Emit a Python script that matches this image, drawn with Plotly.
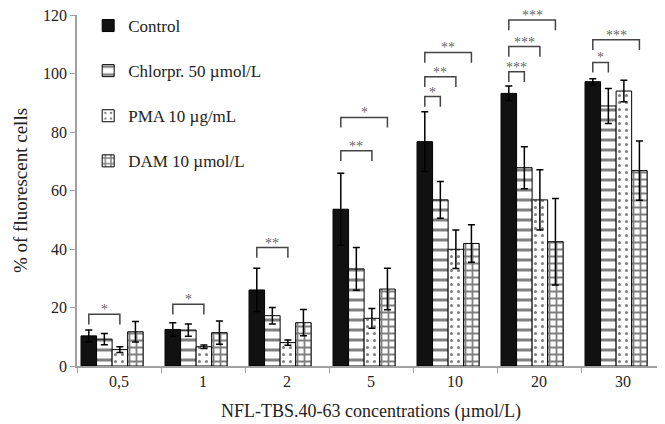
import plotly.graph_objects as go

# Data
concentrations = ["0,5", "1", "2", "5", "10", "20", "30"]
series_names = ["Control", "Chlorpr. 50 µmol/L", "PMA 10 µg/mL", "DAM 10 µmol/L"]

control = [10.3, 12.5, 26.0, 53.6, 76.7, 93.2, 97.2]
control_err = [2.0, 2.3, 7.4, 12.3, 10.2, 2.5, 1.0]
chlorpr = [9.2, 12.3, 17.2, 33.2, 56.8, 67.8, 88.9]
chlorpr_err = [1.9, 2.1, 2.8, 7.3, 6.3, 7.2, 6.0]
pma = [5.6, 6.6, 8.0, 16.3, 39.9, 56.8, 94.0]
pma_err = [1.0, 0.6, 0.9, 3.4, 6.6, 10.3, 3.7]
dam = [11.7, 11.4, 14.8, 26.3, 41.9, 42.5, 66.8]
dam_err = [3.5, 4.0, 4.5, 7.1, 6.4, 14.8, 10.1]

# significance brackets: (concentration index, compared series index, bracket height, label)
brackets = [
    (0, 2, 17.7, "*"),
    (1, 2, 21.1, "*"),
    (2, 2, 40.5, "**"),
    (3, 2, 73.6, "**"),
    (3, 3, 85.0, "*"),
    (4, 1, 92.1, "*"),
    (4, 2, 98.9, "**"),
    (4, 3, 107.2, "**"),
    (5, 1, 100.6, "***"),
    (5, 2, 109.2, "***"),
    (5, 3, 118.3, "***"),
    (6, 1, 103.8, "*"),
    (6, 3, 111.5, "***"),
]

values = [control, chlorpr, pma, dam]
errors = [control_err, chlorpr_err, pma_err, dam_err]

bar_w = 0.185
first_offset = -0.452
patterns = [
    dict(shape=""),
    dict(shape="-", fgcolor="black", bgcolor="white", size=10, solidity=0.3),
    dict(shape=".", fgcolor="black", bgcolor="white", size=7, solidity=0.15),
    dict(shape="+", fgcolor="black", bgcolor="white", size=7, solidity=0.45),
]
fills = ["#111111", "white", "white", "white"]

fig = go.Figure()
for j in range(4):
    fig.add_trace(go.Bar(
        x=concentrations, y=values[j], name=series_names[j],
        width=bar_w, offset=first_offset + j * bar_w,
        marker=dict(color=fills[j], line=dict(color="black", width=1), pattern=patterns[j]),
        error_y=dict(type="data", array=errors[j], color="black", thickness=1.5, width=3.5),
        legendgroup=f"g{j}",
    ))

def bar_center(i, j):
    return i + first_offset + bar_w * (j + 0.5)

drop = 3.5
for i, j, level, label in brackets:
    x0 = bar_center(i, 0)
    x1 = bar_center(i, j)
    fig.add_shape(type="path",
                  path=f"M {x0},{level - drop} L {x0},{level} L {x1},{level} L {x1},{level - drop}",
                  xref="x", yref="y", line=dict(color="#444444", width=1.5))
    fig.add_annotation(x=(x0 + x1) / 2, y=level, text=label, showarrow=False,
                       xref="x", yref="y", yanchor="bottom", yshift=-5,
                       font=dict(family="Liberation Serif", size=14, color="#666666"))

# the page adds an 8px body margin, so the figure is 8px smaller than the window
fig.update_layout(
    width=657, height=416,
    margin=dict(l=69, r=0, t=7, b=58),
    barmode="overlay",
    plot_bgcolor="white", paper_bgcolor="white",
    font=dict(family="Liberation Serif", size=16, color="#222222"),
    legend=dict(x=0.019, y=1.02, xanchor="left", yanchor="top",
                font=dict(size=17), tracegroupgap=20, bgcolor="rgba(0,0,0,0)"),
    xaxis=dict(type="category", range=[-0.5, 6.5], showline=True, linecolor="#a0a0a0",
               linewidth=1.5, ticks="outside", tickson="boundaries", ticklen=5,
               tickcolor="#a0a0a0", showgrid=False, automargin=False,
               title=dict(text="NFL-TBS.40-63 concentrations (µmol/L)", font=dict(size=18), standoff=15)),
    yaxis=dict(range=[0, 120], dtick=20, showline=True, linecolor="#a0a0a0", linewidth=1.5,
               ticks="outside", ticklen=5, tickcolor="#a0a0a0", showgrid=False, zeroline=False,
               automargin=False, ticklabeloverflow="allow",
               title=dict(text="% of fluorescent cells", font=dict(size=19), standoff=10)),
)

fig.write_html("out.html")
